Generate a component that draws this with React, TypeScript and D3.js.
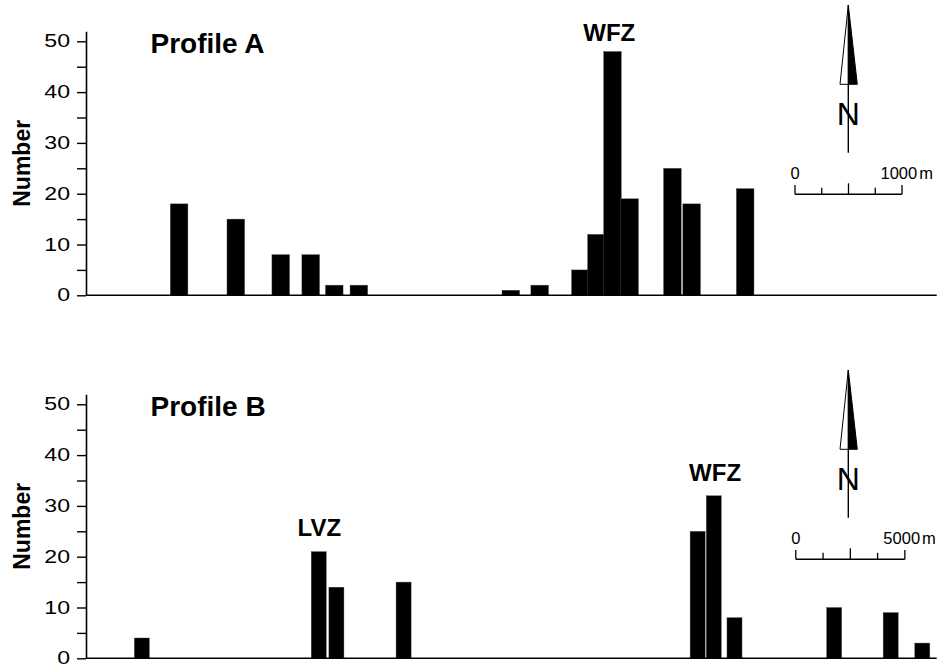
import * as d3 from 'd3'
import React, { useRef, useEffect } from 'react'

// bar centres along each profile (metres) and the number counted in each bin
const distA = [870, 1400, 1820, 2100, 2320, 2550, 3970, 4240, 4620, 4770, 4920, 5080, 5480, 5660, 6160]
const countA = [18, 15, 8, 8, 2, 2, 1, 2, 5, 12, 48, 19, 25, 18, 21]

const distB = [2560, 10670, 11480, 14560, 28040, 28780, 29730, 34300, 36890, 38340]
const countB = [4, 21, 14, 15, 25, 32, 8, 10, 9, 3]

// zone labels: name, position along profile (m), height (count units)
const zonesA = [{ name: 'WFZ', at: 4890, level: 50 }]
const zonesB = [
    { name: 'LVZ', at: 10700, level: 24 },
    { name: 'WFZ', at: 28840, level: 35 },
]

const yTicks = [0, 5, 10, 15, 20, 25, 30, 35, 40, 45, 50]
const yMax = 52

const FONT = "'Liberation Sans', Arial, Helvetica, sans-serif"

const panels = [
    { title: 'Profile A', dist: distA, count: countA, zones: zonesA, length: 7950, bin: 165, scaleLen: 1000, scaleText: '1000', base: 295.3, top: 0 },
    { title: 'Profile B', dist: distB, count: countB, zones: zonesB, length: 39000, bin: 690, scaleLen: 5000, scaleText: '5000', base: 658.3, top: 365 },
]

export default function App() {
    const svgRef = useRef<SVGSVGElement>(null)

    useEffect(() => {
        const svg = d3.select(svgRef.current)
        svg.selectAll('*').remove()

        panels.forEach(p => {
            const g = svg.append('g')
            const left = 86
            const right = 936.7
            const x = d3.scaleLinear().domain([0, p.length]).range([left, right])
            // 5.08 px per count in the original
            const y = d3.scaleLinear().domain([0, yMax]).range([p.base, p.base - yMax * 5.08])

            // bars (later ones sit on top where bins overlap)
            const bw = x(p.bin) - x(0)
            g.selectAll('rect.bar')
                .data(p.dist.map((d, i) => ({ d, v: p.count[i] })))
                .join('rect')
                .attr('class', 'bar')
                .attr('x', e => x(e.d) - bw / 2)
                .attr('width', bw)
                .attr('y', e => y(e.v))
                .attr('height', e => y(0) - y(e.v))
                .attr('fill', '#000')
                .attr('stroke', '#555')
                .attr('stroke-width', 0.4)

            // y axis
            const axis = d3.axisLeft(y)
                .tickValues(yTicks)
                .tickSize(9)
                .tickSizeOuter(0)
                .tickPadding(7)
                .tickFormat(d => (+d % 10 === 0 ? String(d) : ''))
            const ag = g.append('g').attr('transform', `translate(${left},0)`).call(axis)
            ag.select('.domain').attr('stroke', '#000').attr('stroke-width', 1.6)
            ag.selectAll('.tick line').attr('stroke', '#000').attr('stroke-width', 1.4)
            ag.selectAll('.tick text')
                .attr('font-family', FONT)
                .attr('font-size', 17.5)
                .attr('fill', '#000')
                .attr('transform', 'scale(1.32,1)')
                .attr('x', -16 / 1.32)

            // baseline
            g.append('line')
                .attr('x1', left).attr('x2', right)
                .attr('y1', y(0)).attr('y2', y(0))
                .attr('stroke', '#000').attr('stroke-width', 1.6)

            // y label
            g.append('text')
                .attr('transform', `translate(30,${y(0) - 132}) rotate(-90)`)
                .attr('text-anchor', 'middle')
                .attr('font-family', FONT)
                .attr('font-weight', 'bold')
                .attr('font-size', 23)
                .text('Number')

            // title
            g.append('text')
                .attr('x', 150.5)
                .attr('y', y(0) - 242.5)
                .attr('font-family', FONT)
                .attr('font-weight', 'bold')
                .attr('font-size', 28)
                .text(p.title)

            // zone names
            g.selectAll('text.zone')
                .data(p.zones)
                .join('text')
                .attr('class', 'zone')
                .attr('x', z => x(z.at))
                .attr('y', z => y(z.level))
                .attr('text-anchor', 'middle')
                .attr('font-family', FONT)
                .attr('font-weight', 'bold')
                .attr('font-size', 24)
                .text(z => z.name)

            // north arrow
            const ax = 848.3
            const t = p.top
            g.append('line')
                .attr('x1', ax).attr('x2', ax)
                .attr('y1', t + 84).attr('y2', t + 152.7)
                .attr('stroke', '#000').attr('stroke-width', 1.4)
            g.append('path')
                .attr('d', `M${ax},${t + 5} L${ax - 8.3},${t + 84.3} L${ax},${t + 84.3} Z`)
                .attr('fill', '#fff').attr('stroke', '#000').attr('stroke-width', 1)
            g.append('path')
                .attr('d', `M${ax},${t + 5} L${ax + 9},${t + 84.3} L${ax},${t + 84.3} Z`)
                .attr('fill', '#000').attr('stroke', '#000').attr('stroke-width', 1)
            g.append('text')
                .attr('x', ax).attr('y', t + 125)
                .attr('text-anchor', 'middle')
                .attr('font-family', FONT)
                .attr('font-size', 32)
                .text('N')

            // scale bar, length taken from the profile scale
            const sx0 = p.top === 0 ? 795 : 795.8
            const sLen = x(p.scaleLen) - x(0)
            const sy = t + 194.3
            g.append('line')
                .attr('x1', sx0).attr('x2', sx0 + sLen)
                .attr('y1', sy).attr('y2', sy)
                .attr('stroke', '#000').attr('stroke-width', 1.6)
            const sticks = [0, 0.25, 0.5, 0.75, 1]
            const sh = [9.3, 6.5, 11, 6.5, 9.3]
            g.selectAll('line.stick')
                .data(sticks)
                .join('line')
                .attr('class', 'stick')
                .attr('x1', (d) => sx0 + d * sLen).attr('x2', (d) => sx0 + d * sLen)
                .attr('y1', sy).attr('y2', (d, i) => sy - sh[i])
                .attr('stroke', '#000').attr('stroke-width', 1.3)
            g.append('text')
                .attr('x', sx0).attr('y', t + 179.3)
                .attr('text-anchor', 'middle')
                .attr('font-family', FONT)
                .attr('font-size', 16.5)
                .text('0')
            const st = g.append('text')
                .attr('x', sx0 + sLen - 21.5).attr('y', t + 179.3)
                .attr('font-family', FONT)
                .attr('font-size', 16.5)
            st.append('tspan').text(p.scaleText)
            st.append('tspan').attr('dx', 2).text('m')
        })
    }, [])

    return (
        <div>
            <svg ref={svgRef} width={940} height={668} style={{ position: 'absolute', left: 0, top: 0, background: '#fff' }}></svg>
        </div>
    )
}
